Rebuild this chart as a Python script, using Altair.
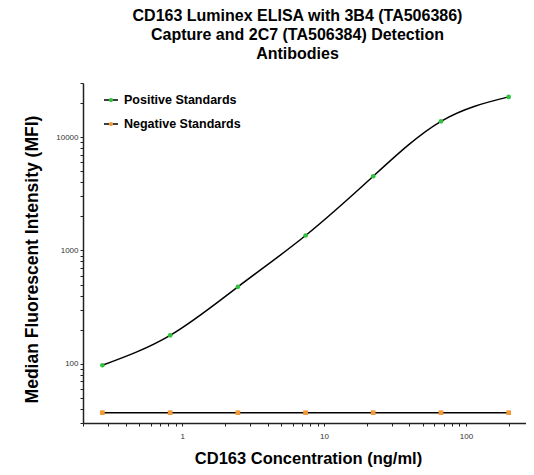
import altair as alt
import pandas as pd

conc = [0.274, 0.823, 2.47, 7.41, 22.2, 66.7, 200]
positive = [97, 178, 477, 1353, 4510, 13780, 22630]
negative = [37, 37, 37, 37, 37, 37, 37]
series = ["Positive Standards", "Negative Standards"]
colors = ["#2fc23a", "#f29a38"]
x_ticks = [0.2, 0.3, 0.4, 0.5, 0.6, 0.7, 0.8, 0.9, 1, 2, 3, 4, 5, 6, 7, 8, 9,
           10, 20, 30, 40, 50, 60, 70, 80, 90, 100, 200]
y_ticks = [30, 40, 50, 60, 70, 80, 90, 100, 200, 300, 400, 500, 600, 700, 800, 900,
           1000, 2000, 3000, 4000, 5000, 6000, 7000, 8000, 9000, 10000, 20000, 30000]
x_labels = [1, 10, 100]
y_labels = [100, 1000, 10000]
title_lines = ["CD163 Luminex ELISA with 3B4 (TA506386)",
               "Capture and 2C7 (TA506384) Detection",
               "Antibodies"]

rows = []
for c, p in zip(conc, positive):
    rows.append({"conc": c, "mfi": p, "series": series[0]})
for c, n in zip(conc, negative):
    rows.append({"conc": c, "mfi": n, "series": series[1]})
df = pd.DataFrame(rows)

FONT = "Liberation Sans"

xlab_expr = "(" + " || ".join(f"datum.value == {v}" for v in x_labels) + ") ? datum.label : ''"
ylab_expr = "(" + " || ".join(f"datum.value == {v}" for v in y_labels) + ") ? datum.label : ''"

x_enc = alt.X("conc:Q", scale=alt.Scale(type="log", domain=[0.2, 265], nice=False),
              axis=alt.Axis(values=x_ticks, format="d", labelExpr=xlab_expr, labelOverlap=False,
                            title="CD163 Concentration (ng/ml)", titleX=225, titleY=40,
                            titleBaseline="alphabetic", titleFontSize=16.5, labelPadding=6))
y_enc = alt.Y("mfi:Q", scale=alt.Scale(type="log", domain=[30, 30000], nice=False),
              axis=alt.Axis(values=y_ticks, format="d", labelExpr=ylab_expr, labelOverlap=False,
                            title="Median Fluorescent Intensity (MFI)", titleX=-51, titleY=176,
                            titleAngle=270, titleAlign="center", titleBaseline="middle",
                            titleFontSize=17.5))

legend_common = dict(orient="none", legendX=20, legendY=9, title=None,
                     labelFont=FONT, labelFontSize=12.5, labelFontWeight="bold",
                     labelColor="black", symbolSize=196, symbolStrokeWidth=1.5,
                     rowPadding=9, labelOffset=5, padding=0)

lines = alt.Chart(df).mark_line(strokeWidth=1.5, interpolate="natural").encode(
    x=x_enc, y=y_enc,
    stroke=alt.Stroke("series:N", scale=alt.Scale(domain=series, range=["black", "black"]),
                      legend=alt.Legend(symbolType="stroke", **legend_common)),
)

points = alt.Chart(df).mark_point(filled=True, size=22, opacity=1).encode(
    x=x_enc, y=y_enc,
    fill=alt.Fill("series:N", scale=alt.Scale(domain=series, range=colors),
                  legend=alt.Legend(symbolType="M-0.3,0A0.3,0.3 0 1,1 0.3,0A0.3,0.3 0 1,1 -0.3,0Z",
                                    symbolStrokeColor="transparent", labelOpacity=0,
                                    **legend_common)),
    shape=alt.Shape("series:N", scale=alt.Scale(domain=series, range=["circle", "square"]),
                    legend=None),
)

chart = alt.layer(lines, points).resolve_scale(fill="independent", stroke="independent").properties(
    width=443, height=340,
    autosize=alt.AutoSizeParams(type="none"),
    padding={"left": 75, "top": 75, "right": 0, "bottom": 44},
    title=alt.TitleParams(text=title_lines, font=FONT, fontSize=16, fontWeight="bold",
                          color="black", anchor="middle", frame="group", dx=-7,
                          lineHeight=19, offset=17),
).configure_view(stroke=None).configure_axis(
    grid=False, domainColor="#222", domainWidth=1.5, tickColor="#222", tickWidth=1,
    tickSize=3, labelFont=FONT, labelFontSize=8, labelColor="#333",
    titleFont=FONT, titleFontSize=15, titleFontWeight="bold", titleColor="black",
)

chart.save("out.html", embed_options={"renderer": "svg", "actions": False})
